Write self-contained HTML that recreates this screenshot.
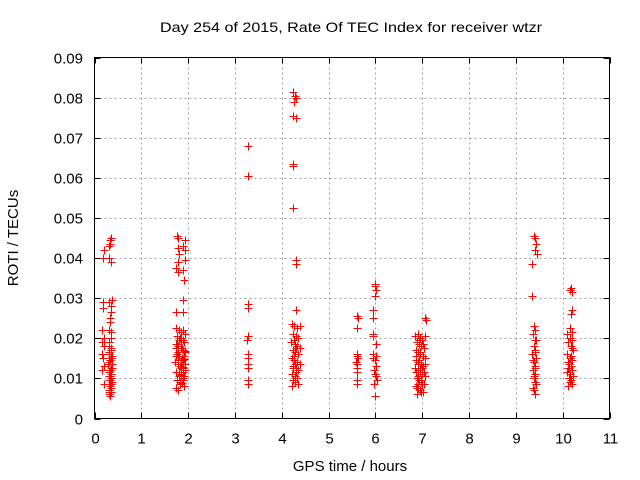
<!DOCTYPE html>
<html><head><meta charset="utf-8"><style>
html,body{margin:0;padding:0;background:#fff;}
svg{display:block;font-family:"Liberation Sans",sans-serif;}
</style></head><body>
<svg id="chart" width="640" height="480" viewBox="0 0 640 480">
<rect x="0" y="0" width="640" height="480" fill="#fff"/>
<text x="160" y="32" font-size="14" textLength="382" lengthAdjust="spacingAndGlyphs" fill="#000">Day 254 of 2015, Rate Of TEC Index for receiver wtzr</text>
<text x="350" y="471" text-anchor="middle" font-size="15" fill="#000">GPS time / hours</text>
<text x="18" y="238" text-anchor="middle" font-size="15" fill="#000" transform="rotate(-90 18 238)">ROTI / TECUs</text>
<g id="grid"></g>
<g id="ticks"></g>
<g id="points"></g>
<rect x="94.5" y="57.5" width="515" height="361" fill="none" stroke="#000" stroke-width="1"/>
</svg>
<script>
const xTicks=[0,1,2,3,4,5,6,7,8,9,10,11];
const yTicks=[0,0.01,0.02,0.03,0.04,0.05,0.06,0.07,0.08,0.09];
const yTickLabels=["0","0.01","0.02","0.03","0.04","0.05","0.06","0.07","0.08","0.09"];
const cluster1=[[0.2,0.042],[0.33,0.0445],[0.35,0.045],[0.34,0.0435],[0.32,0.043],[0.19,0.040],[0.3,0.040],[0.36,0.039],[0.18,0.029],[0.3,0.029],[0.37,0.0295],[0.36,0.028],[0.19,0.0275],[0.35,0.0265],[0.34,0.025],[0.33,0.024],[0.15,0.022],[0.3,0.022],[0.36,0.0215],[0.2,0.020],[0.35,0.020],[0.15,0.019],[0.32,0.019],[0.2,0.018],[0.36,0.0175],[0.15,0.016],[0.3,0.016],[0.35,0.015],[0.18,0.015],[0.3,0.014],[0.37,0.0135],[0.2,0.013],[0.33,0.012],[0.15,0.012],[0.36,0.011],[0.3,0.0105],[0.35,0.010],[0.33,0.0095],[0.37,0.009],[0.3,0.0085],[0.34,0.008],[0.36,0.0075],[0.32,0.007],[0.35,0.0065],[0.3,0.006],[0.33,0.0055],[0.36,0.0085],[0.2,0.0085],[0.3,0.0115],[0.36,0.0125],[0.33,0.0145],[0.35,0.017],[0.3,0.018],[0.38,0.0125],[0.32,0.0065],[0.31,0.0095],[0.34,0.0105],[0.37,0.0155],[0.29,0.0135],[0.32,0.0165]];
const cluster2=[[1.77,0.0455],[1.78,0.045],[1.93,0.0445],[1.9,0.043],[1.78,0.0425],[1.93,0.042],[1.8,0.041],[1.78,0.039],[1.93,0.0395],[1.75,0.0375],[1.78,0.0365],[1.9,0.037],[1.92,0.0345],[1.9,0.0295],[1.75,0.0265],[1.9,0.0265],
[1.75,0.0225],[1.8,0.022],[1.85,0.0215],[1.9,0.022],[1.93,0.021],[1.77,0.0205],[1.82,0.02],[1.88,0.0195],[1.92,0.019],[1.74,0.0185],[1.79,0.018],[1.84,0.0175],[1.9,0.017],[1.94,0.0168],[1.76,0.016],[1.81,0.0155],[1.86,0.015],[1.91,0.0148],[1.73,0.014],[1.78,0.0135],[1.83,0.013],[1.89,0.0128],[1.93,0.012],[1.75,0.0115],[1.8,0.011],[1.85,0.0108],[1.9,0.010],[1.77,0.0095],[1.82,0.009],[1.87,0.0088],[1.92,0.008],[1.74,0.0075],[1.79,0.007],[1.84,0.0145],[1.9,0.0125],[1.94,0.0165],[1.76,0.0185],[1.81,0.0115],[1.86,0.0135],[1.91,0.0155],[1.75,0.0175],[1.8,0.0105],[1.85,0.0125],[1.9,0.0145],[1.78,0.0165],[1.83,0.0085],[1.88,0.0095],[1.93,0.0135],[1.75,0.0155],[1.8,0.0195],[1.87,0.0175],[1.92,0.0105],[1.84,0.0195],[1.79,0.0145],[1.89,0.0115]];
const cluster3=[[3.27,0.068],[3.27,0.0605],[3.27,0.0285],[3.27,0.0275],[3.27,0.0205],[3.25,0.0195],[3.27,0.016],[3.27,0.015],[3.27,0.0135],[3.27,0.0125],[3.27,0.0095],[3.27,0.0085]];
const cluster4=[[4.25,0.0815],[4.28,0.0805],[4.3,0.080],[4.27,0.079],[4.25,0.0755],[4.3,0.075],[4.25,0.0635],[4.25,0.063],[4.23,0.0525],[4.3,0.0395],[4.3,0.0385],[4.3,0.027],
[4.22,0.0235],[4.27,0.023],[4.32,0.0225],[4.38,0.023],[4.25,0.021],[4.3,0.0205],[4.35,0.02],[4.2,0.019],[4.28,0.0185],[4.33,0.018],[4.38,0.0175],[4.24,0.017],[4.29,0.0165],[4.34,0.016],[4.22,0.015],[4.27,0.0145],[4.32,0.014],[4.38,0.0135],[4.25,0.013],[4.3,0.0125],[4.35,0.012],[4.21,0.011],[4.28,0.0105],[4.33,0.010],[4.24,0.0095],[4.29,0.009],[4.35,0.0085],[4.22,0.008],[4.27,0.0155],[4.3,0.0115],[4.26,0.0195],[4.31,0.0175],[4.24,0.0125],[4.28,0.0135]];
const cluster5=[[5.6,0.0255],[5.62,0.025],[5.6,0.0225],[5.6,0.016],[5.6,0.0155],[5.6,0.0135],[5.6,0.0125],[5.6,0.0115],[5.6,0.0095],[5.6,0.0085],[5.58,0.014],[5.62,0.015],
[6.0,0.0335],[6.0,0.033],[6.02,0.032],[6.0,0.0305],[5.95,0.027],[5.95,0.025],[5.95,0.021],[5.95,0.0205],[6.02,0.0185],[5.95,0.016],[6.02,0.0155],[5.95,0.015],[6.0,0.0145],[6.02,0.013],[5.97,0.012],[6.0,0.011],[6.02,0.0105],[6.03,0.0095],[5.96,0.0085],[6.0,0.0055]];
const cluster6=[[7.05,0.025],[7.08,0.0245],[6.85,0.0205],[6.9,0.021],[6.95,0.02],[7.0,0.0195],[7.05,0.0205],[6.88,0.019],[6.93,0.0185],[6.98,0.018],[7.03,0.0175],[6.86,0.017],[6.91,0.0165],[6.96,0.016],[7.01,0.0155],[7.06,0.015],[6.87,0.0145],[6.92,0.014],[6.97,0.0135],[7.02,0.013],[6.85,0.0125],[6.9,0.012],[6.95,0.0115],[7.0,0.011],[7.05,0.0105],[6.88,0.010],[6.93,0.0095],[6.98,0.009],[7.03,0.0085],[6.86,0.008],[6.91,0.0075],[6.96,0.007],[7.01,0.0065],[6.89,0.006],[6.94,0.0145],[6.99,0.0125],[7.04,0.0175],[6.87,0.0115],[6.92,0.0135],[6.97,0.0095],[7.02,0.0155],[6.9,0.0105],[6.95,0.0165],[7.0,0.0085],[6.88,0.0075],[6.93,0.0195],[6.98,0.0065],[7.03,0.0115],[6.86,0.0155],[6.96,0.0125],[7.01,0.0185],[6.91,0.0085],[7.05,0.0135]];
const cluster7=[[9.38,0.0455],[9.4,0.045],[9.42,0.0435],[9.4,0.042],[9.35,0.0385],[9.45,0.041],[9.35,0.0305],[9.38,0.023],[9.4,0.022],[9.36,0.021],[9.42,0.0195],[9.38,0.018],[9.4,0.017],[9.35,0.016],[9.42,0.015],[9.38,0.014],[9.4,0.013],[9.36,0.012],[9.41,0.011],[9.38,0.010],[9.4,0.009],[9.43,0.0085],[9.37,0.0075],[9.39,0.007],[9.41,0.006],[9.4,0.0125],[9.36,0.0145],[9.41,0.0165],[9.38,0.0105],[9.4,0.0195]];
const cluster8=[[10.18,0.0325],[10.15,0.032],[10.2,0.0315],[10.2,0.027],[10.18,0.026],[10.15,0.0225],[10.2,0.0215],[10.1,0.021],[10.15,0.020],[10.2,0.0195],[10.12,0.019],[10.17,0.018],[10.22,0.017],[10.1,0.016],[10.15,0.015],[10.2,0.0145],[10.12,0.014],[10.18,0.013],[10.14,0.0125],[10.2,0.012],[10.1,0.0115],[10.16,0.011],[10.22,0.0105],[10.13,0.010],[10.18,0.0095],[10.15,0.009],[10.2,0.0085],[10.12,0.008],[10.17,0.0155],[10.14,0.0135],[10.19,0.0175],[10.11,0.0125]];
const clusters=[cluster1,cluster2,cluster3,cluster4,cluster5,cluster6,cluster7,cluster8];
const NS="http://www.w3.org/2000/svg";
const L=94.5,R=609.5,T=57.5,B=418.5;
function sx(v){return L+(v-0)/(11-0)*(R-L);}
function sy(v){return B-(v-0)/(0.09-0)*(B-T);}
const grid=document.getElementById('grid');
const ticks=document.getElementById('ticks');
const pts=document.getElementById('points');
function mk(tag,attrs,parent){const e=document.createElementNS(NS,tag);for(const k in attrs)e.setAttribute(k,attrs[k]);parent.appendChild(e);return e;}
xTicks.forEach((t,i)=>{
  const x=Math.round(sx(t))+0.5;
  if(i>0&&i<xTicks.length-1){const g=mk('line',{x1:x,y1:T,x2:x,y2:B,stroke:'#a0a0a0','stroke-dasharray':'2,3'},grid);
  
  }
  const a=mk('line',{x1:x,y1:B,x2:x,y2:B-6,stroke:'#000'},ticks);
  
  
  const b=mk('line',{x1:x,y1:T,x2:x,y2:T+6,stroke:'#000'},ticks);
  
  
  const tx=mk('text',{x:x,y:B+25,'text-anchor':'middle','font-size':'15',fill:'#000'},ticks);
  tx.textContent=String(t);
  
  
});
yTicks.forEach((t,i)=>{
  const y=Math.round(sy(t))+0.5;
  if(i>0&&i<yTicks.length-1){const g=mk('line',{x1:L,y1:y,x2:R,y2:y,stroke:'#a0a0a0','stroke-dasharray':'2,3'},grid);
  
  }
  const a=mk('line',{x1:L,y1:y,x2:L+6,y2:y,stroke:'#000'},ticks);
  
  
  const b=mk('line',{x1:R,y1:y,x2:R-6,y2:y,stroke:'#000'},ticks);
  
  
  const tx=mk('text',{x:83,y:y+5,'text-anchor':'end','font-size':'15',fill:'#000'},ticks);
  tx.textContent=yTickLabels[i];
  
  
});
clusters.forEach(c=>c.forEach(pt=>{
  const x=Math.round(sx(pt[0]))+0.5,y=Math.round(sy(pt[1]))+0.5;
  const p=mk('path',{d:`M${x-4},${y}H${x+4}M${x},${y-4}V${y+4}`,stroke:'#ff0000','stroke-width':'1',fill:'none'},pts);
  
  
}));
</script>
</body></html>
